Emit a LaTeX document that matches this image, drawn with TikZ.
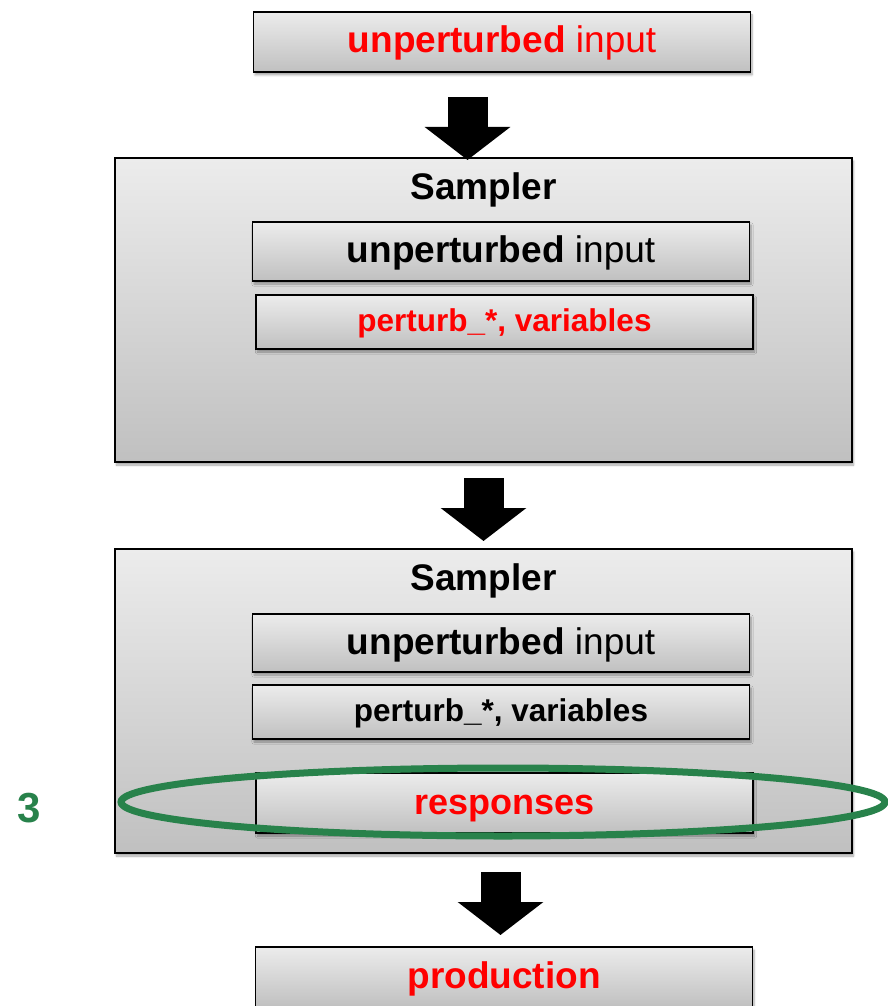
\documentclass[tikz,border=0pt]{standalone}
\usepackage{fontspec}
\setmainfont{Liberation Sans}
\usetikzlibrary{arrows.meta,shadows.blur}
\definecolor{ringgreen}{RGB}{40,130,75}
\definecolor{boxtop}{RGB}{236,236,236}
\definecolor{boxbot}{RGB}{192,192,192}
\newcommand{\fs}[1]{\fontsize{#1}{#1}\selectfont}
\tikzset{
  panel/.style={draw=black, line width=1.4pt, outer sep=0pt, inner sep=0pt,
    top color=boxtop, bottom color=boxbot,
    blur shadow={shadow xshift=1.5pt, shadow yshift=-3pt, shadow blur steps=6, shadow opacity=35}},
  bigtext/.style={font=\fs{37}, text height=27pt, text depth=5pt},
  midtext/.style={font=\fs{31.5}\bfseries, text height=23pt, text depth=4.3pt},
  bar/.style={panel, minimum width=497pt},
  frame/.style={panel, minimum width=737pt, minimum height=304pt},
  bigarrow/.style={line width=40pt, black, -{Triangle[width=84pt,length=33pt]}},
  title/.style={bigtext, font=\fs{37}\bfseries, text=black, inner sep=0pt}
}
\begin{document}
\begin{tikzpicture}[x=1pt,y=1pt]
\useasboundingbox (0,0) rectangle (887,-1006);

% input block
\node[bar, bigtext, minimum height=60pt] (top) at (502,-42)
  {\color{red}\textbf{unperturbed} input};

% first sampler
\node[frame] (s1) at (483.5,-310) {};
\node[title] (s1t) at (483.5,-188) {Sampler};
\node[bar, bigtext, minimum height=59pt] (s1a) at (501,-251.5)
  {\textbf{unperturbed} input};
\node[bar, midtext, minimum height=54pt] (s1b) at (504.5,-322)
  {\color{red}perturb\_*, variables};

% second sampler
\node[frame] (s2) at (483.5,-701) {};
\node[title] (s2t) at (483.5,-579) {Sampler};
\node[bar, bigtext, minimum height=58pt] (s2a) at (501,-643)
  {\textbf{unperturbed} input};
\node[bar, midtext, minimum height=54pt] (s2b) at (501,-712)
  {perturb\_*, variables};
\node[bar, bigtext, font=\fs{36}\bfseries, minimum height=60pt] (s2c) at (504.5,-803)
  {\color{red}responses};

% output block
\node[bar, bigtext, font=\fs{37}\bfseries, minimum height=60pt] (prod) at (504,-977)
  {\color{red}production};

% flow arrows
\draw[bigarrow] ([xshift=-34.5pt,yshift=-25pt]top.south) -- ([xshift=-16pt,yshift=-2pt]s1.north);
\draw[bigarrow] ([yshift=-16pt]s1.south) -- ([yshift=8pt]s2.north);
\draw[bigarrow] ([xshift=17pt,yshift=-19pt]s2.south) -- ([xshift=-3.5pt,yshift=12pt]prod.north);

% highlight ring and step number
\draw[ringgreen, line width=7pt] (s2c.center) ++(-1.5,1) ellipse [x radius=382, y radius=34];
\node[text=ringgreen, font=\fs{42}\bfseries] (step) at (29,-808) {3};
\end{tikzpicture}
\end{document}
